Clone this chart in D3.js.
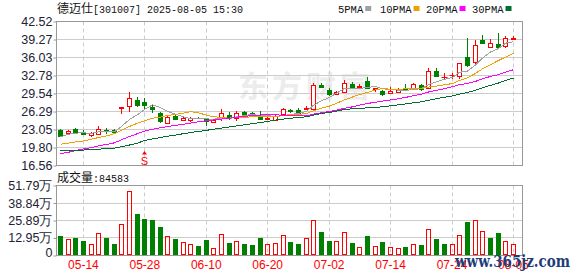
<!DOCTYPE html>
<html>
<head>
<meta charset="utf-8">
<script src="https://cdn.jsdelivr.net/npm/d3@7/dist/d3.min.js"></script>
<style>
  body { margin: 0; background: #fff; }
  svg { display: block; }
</style>
</head>
<body>
<svg id="chart" width="578" height="276"></svg>
<script>
// Trading days shown on the chart
const dates = [
  "05-09","05-12","05-13","05-14","05-15","05-16","05-19","05-20","05-23","05-26",
  "05-27","05-28","05-29","05-30","06-03","06-04","06-05","06-06","06-09","06-10",
  "06-11","06-12","06-13","06-16","06-17","06-18","06-19","06-20","06-23","06-24",
  "06-25","06-26","06-27","06-30","07-01","07-02","07-03","07-04","07-07","07-08",
  "07-09","07-10","07-11","07-14","07-15","07-16","07-17","07-18","07-21","07-22",
  "07-23","07-24","07-25","07-28","07-29","07-30","07-31","08-01","08-04","08-05"
];

const open = [
  23.03,22.42,23.21,22.60,22.13,22.31,23.03,22.91,27.00,27.31,
  28.43,27.95,27.13,25.99,24.30,25.44,24.85,24.85,25.15,25.00,
  24.41,25.08,25.75,25.20,26.22,26.04,25.60,24.90,24.75,25.80,
  26.60,26.53,26.75,26.66,31.06,30.16,29.38,29.74,31.25,30.70,
  31.84,30.28,30.05,29.56,29.79,30.46,30.34,31.06,30.46,33.60,
  32.50,32.80,32.75,36.19,35.29,39.22,38.01,38.50,38.13,39.45
];
const high = [
  23.21,22.91,23.39,22.91,22.60,23.63,23.32,23.09,27.12,29.79,
  28.94,28.71,27.62,26.22,25.44,25.93,25.32,25.32,25.30,25.13,
  24.90,26.66,26.22,26.35,26.35,26.17,26.35,25.40,25.62,26.90,
  26.70,26.84,27.25,31.48,31.40,30.46,30.07,31.97,31.60,31.24,
  32.57,30.58,30.25,30.75,30.57,31.24,31.37,31.24,34.20,34.20,
  33.29,33.29,35.10,39.53,39.10,40.00,39.30,40.44,39.82,39.95
];
const low = [
  21.69,22.31,22.31,22.00,21.69,22.18,22.18,22.49,25.93,26.22,
  27.13,26.66,26.04,24.30,24.17,24.90,24.72,24.41,24.90,23.75,
  24.26,24.60,24.72,24.60,25.80,25.44,24.72,24.80,24.54,25.70,
  26.04,25.80,26.53,26.53,30.46,29.12,29.25,29.56,30.52,30.28,
  30.28,29.85,29.07,29.43,29.67,30.16,30.16,30.03,30.28,32.57,
  31.97,32.10,32.15,34.38,34.69,38.50,37.90,37.72,37.72,39.10
];
const close = [
  21.82,22.78,22.42,22.31,22.42,23.21,22.72,22.60,27.12,28.65,
  27.53,27.45,26.68,24.66,25.32,25.00,25.05,25.10,25.05,24.60,
  24.72,25.99,25.20,26.04,25.93,25.62,24.95,25.15,25.45,26.66,
  26.45,26.10,26.90,31.06,30.65,29.43,29.85,31.37,30.65,30.90,
  30.46,30.50,29.44,29.98,30.34,30.30,31.19,30.34,33.60,32.75,
  32.57,32.88,35.00,34.69,38.31,38.62,38.56,38.01,39.53,39.60
];
// volume, in 万 (10k) shares
const volume = [
  14.3,12.5,12.8,10.5,8.8,17.0,12.8,8.3,23.3,47.8,
  30.8,27.0,26.3,21.0,14.3,12.0,9.8,8.8,6.8,11.3,
  5.8,15.8,9.3,11.0,8.3,7.5,12.8,8.3,9.0,14.8,
  10.0,8.3,13.3,26.0,17.3,10.8,10.5,17.3,9.0,6.5,
  14.3,7.3,9.8,6.5,5.8,6.0,8.8,7.5,19.3,12.0,
  8.3,8.3,15.5,24.8,26.0,17.8,12.8,16.5,11.0,8.4583
];

// moving averages as drawn
const ma5 = [
  21.70,22.20,22.40,22.45,22.35,22.63,22.62,22.65,23.61,24.86,
  25.72,26.67,27.49,26.99,26.33,25.82,25.34,25.03,25.10,24.96,
  24.90,25.09,25.11,25.31,25.58,25.76,25.55,25.54,25.42,25.57,
  25.73,25.96,26.31,27.43,28.23,28.83,29.58,30.47,30.39,30.44,
  30.65,30.78,30.39,30.26,30.14,30.11,30.25,30.43,31.15,31.64,
  32.09,32.43,33.36,33.58,34.69,35.90,37.04,37.64,38.61,38.86
];
const ma10 = [
  20.40,20.60,20.80,21.00,21.30,21.60,21.90,22.30,22.90,23.61,
  24.18,24.64,25.07,25.30,25.59,25.77,26.01,26.26,26.05,25.64,
  25.36,25.22,25.07,25.21,25.27,25.33,25.32,25.33,25.37,25.57,
  25.74,25.76,25.93,26.43,26.90,27.28,27.77,28.39,28.91,29.34,
  29.74,30.18,30.43,30.32,30.29,30.38,30.51,30.41,30.71,30.89,
  31.10,31.34,31.90,32.37,33.16,33.99,34.73,35.50,36.09,36.78
];
const ma20 = [
  18.70,18.95,19.25,19.55,19.80,20.10,20.35,20.65,21.20,21.80,
  22.30,22.75,23.10,23.35,23.60,23.80,24.00,24.20,24.45,24.62,
  24.77,24.93,25.07,25.26,25.43,25.55,25.66,25.79,25.71,25.61,
  25.55,25.49,25.50,25.82,26.08,26.31,26.55,26.86,27.14,27.45,
  27.74,27.97,28.18,28.38,28.60,28.83,29.14,29.40,29.81,30.11,
  30.42,30.76,31.16,31.34,31.73,32.19,32.62,32.95,33.40,33.83
];
const ma30 = [
  19.20,19.25,19.30,19.35,19.40,19.50,19.60,19.70,19.95,20.25,
  20.60,21.05,21.35,21.60,21.85,22.05,22.30,22.50,22.70,22.90,
  23.10,23.30,23.50,23.70,23.90,24.10,24.30,24.50,24.75,24.94,
  25.09,25.21,25.35,25.65,25.92,26.13,26.37,26.66,26.78,26.85,
  26.95,27.05,27.14,27.32,27.49,27.66,27.87,28.04,28.33,28.60,
  28.86,29.09,29.42,29.71,30.12,30.55,31.01,31.43,31.90,32.33
];

const priceTicks = [16.56, 19.80, 23.05, 26.29, 29.54, 32.78, 36.03, 39.27, 42.52];
const volTicks = [0, 12.95, 25.89, 38.84, 51.79];
const tickDates = ["05-14", "05-28", "06-10", "06-20", "07-02", "07-14", "07-24", "08-05"];
const maNames = ["5PMA", "10PMA", "20PMA", "30PMA"];

const svg = d3.select("#chart");

const RED = "#ff0000";
const GREEN = "#008000";
const GRID = "#cccccc";
const FRAME = "#999999";
const LABEL = "#222233";
const maColors = ["#a0a0a0", "#f0a000", "#ff00ff", "#006e2e"];

// Panel geometry
const plotL = 56.5, plotR = 522.5;
const priceTop = 21.5, priceBottom = 165.5;
const volTop = 185.5, volBottom = 255.5;
const step = 7.68;

const x = d3.scaleBand()
  .domain(dates)
  .range([plotL, plotL + step * dates.length])
  .padding(0);
const cx = d => Math.floor(x(d) + x.bandwidth() / 2) + 0.5;

const y = d3.scaleLinear().domain([16.56, 42.52]).range([priceBottom, priceTop]);
const yv = d3.scaleLinear().domain([0, 51.79]).range([volBottom, volTop]);

const rows = dates.map((d, i) => ({
  d, o: open[i], h: high[i], l: low[i], c: close[i], v: volume[i],
  prev: i ? close[i - 1] : open[i]
}));

// Watermark behind the price panel
svg.append("text")
  .attr("x", 238).attr("y", 97)
  .attr("font-family", "Noto Sans CJK SC")
  .attr("font-size", 30).attr("font-weight", "bold")
  .attr("letter-spacing", 4)
  .attr("fill", "#ececec")
  .text("东方财富");

// Horizontal grid lines
svg.append("g").selectAll("line")
  .data(priceTicks.slice(1, -1))
  .join("line")
  .attr("x1", plotL).attr("x2", plotR)
  .attr("y1", t => Math.floor(y(t)) + 0.5).attr("y2", t => Math.floor(y(t)) + 0.5)
  .attr("stroke", GRID);
svg.append("g").selectAll("line")
  .data(volTicks.slice(1, -1))
  .join("line")
  .attr("x1", plotL).attr("x2", plotR)
  .attr("y1", t => Math.floor(yv(t)) + 0.5).attr("y2", t => Math.floor(yv(t)) + 0.5)
  .attr("stroke", GRID);

// Vertical dashed grid lines, both panels
[[priceTop, priceBottom], [volTop, volBottom]].forEach(([t, b]) => {
  svg.append("g").selectAll("line")
    .data(tickDates)
    .join("line")
    .attr("x1", cx).attr("x2", cx)
    .attr("y1", t).attr("y2", b)
    .attr("stroke", GRID)
    .attr("stroke-dasharray", "4,3");
});

// Frames
[[priceTop, priceBottom], [volTop, volBottom]].forEach(([t, b]) => {
  svg.append("rect")
    .attr("x", plotL).attr("y", t)
    .attr("width", plotR - plotL).attr("height", b - t)
    .attr("fill", "none").attr("stroke", FRAME);
});

// Left axes
function styleAxis(g) {
  g.select(".domain").remove();
  g.selectAll(".tick line").attr("stroke", FRAME);
  g.selectAll(".tick text")
    .attr("fill", LABEL)
    .attr("font-family", "Liberation Sans, Arial, sans-serif")
    .attr("font-size", 12.5);
}
svg.append("g")
  .attr("transform", `translate(${plotL},0)`)
  .call(d3.axisLeft(y).tickValues(priceTicks).tickFormat(d3.format(".2f")).tickSize(3).tickPadding(1))
  .call(styleAxis);
svg.append("g")
  .attr("transform", `translate(${plotL},0)`)
  .call(d3.axisLeft(yv).tickValues(volTicks)
    .tickFormat(d => d === 0 ? "0" : d.toFixed(2) + "万").tickSize(3).tickPadding(1))
  .call(styleAxis)
  .selectAll(".tick text")
  .attr("dy", d => d === 0 ? "0.05em" : "0.32em");

// Date axis
svg.append("g")
  .attr("transform", `translate(0,${volBottom})`)
  .call(d3.axisBottom(x).tickValues(tickDates).tickSize(0).tickPadding(5))
  .call(g => g.select(".domain").remove())
  .selectAll("text")
  .attr("fill", RED)
  .attr("font-family", "Liberation Sans, Arial, sans-serif")
  .attr("font-size", 12);

// Candles
const candleG = svg.append("g");
rows.forEach(r => {
  const up = r.c >= r.o;
  const col = up ? RED : GREEN;
  const xc = cx(r.d);
  const top = Math.round(y(Math.max(r.o, r.c)));
  const bot = Math.round(y(Math.min(r.o, r.c)));
  const hy = Math.round(y(r.h));
  const ly = Math.round(y(r.l));
  if (hy < top) {
    candleG.append("line").attr("x1", xc).attr("x2", xc)
      .attr("y1", hy).attr("y2", top).attr("stroke", col);
  }
  if (ly > bot) {
    candleG.append("line").attr("x1", xc).attr("x2", xc)
      .attr("y1", bot).attr("y2", ly).attr("stroke", col);
  }
  if (bot - top < 1) {
    candleG.append("line")
      .attr("x1", xc - 3).attr("x2", xc + 3)
      .attr("y1", top + 0.5).attr("y2", top + 0.5)
      .attr("stroke", col);
  } else if (up) {
    candleG.append("rect")
      .attr("x", xc - 2).attr("y", top + 0.5)
      .attr("width", 4).attr("height", bot - top)
      .attr("fill", "#fff").attr("stroke", RED);
  } else {
    candleG.append("rect")
      .attr("x", xc - 2.5).attr("y", top)
      .attr("width", 5).attr("height", bot - top + 1)
      .attr("fill", GREEN);
  }
});

// Moving average lines
const line = d3.line()
  .x((v, i) => cx(dates[i]))
  .y(v => y(v));
[ma5, ma10, ma20, ma30].forEach((series, k) => {
  svg.append("path")
    .datum(series)
    .attr("d", line)
    .attr("fill", "none")
    .attr("stroke", maColors[k])
    .attr("stroke-width", 1)
    .attr("shape-rendering", "crispEdges");
});

// Volume bars
const volG = svg.append("g");
rows.forEach(r => {
  const up = r.c >= r.prev;
  const xc = cx(r.d);
  const top = Math.round(yv(r.v));
  if (up) {
    volG.append("rect")
      .attr("x", xc - 2).attr("y", top + 0.5)
      .attr("width", 4).attr("height", 254 - top)
      .attr("fill", "none").attr("stroke", RED);
  } else {
    volG.append("rect")
      .attr("x", xc - 2.5).attr("y", top)
      .attr("width", 5).attr("height", 255 - top)
      .attr("fill", GREEN);
  }
});

// "S" marker under the 05-28 candle
const sx = cx("05-28");
svg.append("path")
  .attr("d", `M${sx - 2.5},154.5 L${sx + 2.5},154.5 L${sx},151 Z`)
  .attr("fill", RED);
svg.append("text")
  .attr("x", sx).attr("y", 164.5)
  .attr("text-anchor", "middle")
  .attr("font-family", "Liberation Sans, Arial, sans-serif")
  .attr("font-size", 11)
  .attr("fill", RED)
  .text("S");

// Title
const title = svg.append("text").attr("x", 57).attr("y", 13).attr("fill", "#111");
title.append("tspan")
  .attr("font-family", "Noto Sans CJK SC").attr("font-size", 12)
  .text("德迈仕");
title.append("tspan")
  .attr("font-family", "Liberation Mono, monospace").attr("font-size", 10)
  .text("[301007] 2025-08-05 15:30");

// Legend
const legendX = [338, 380, 426, 472];
const legend = svg.append("g");
maNames.forEach((name, k) => {
  const t = legend.append("text")
    .attr("x", legendX[k]).attr("y", 12.5)
    .attr("font-family", "Liberation Mono, monospace")
    .attr("font-size", 10.5)
    .attr("fill", "#111")
    .text(name);
  const w = t.node().getComputedTextLength();
  legend.append("rect")
    .attr("x", legendX[k] + w + 2).attr("y", 6)
    .attr("width", 6).attr("height", 5)
    .attr("fill", maColors[k]);
});

// Volume caption
const cap = svg.append("text").attr("x", 57).attr("y", 182).attr("fill", "#111");
cap.append("tspan")
  .attr("font-family", "Noto Sans CJK SC").attr("font-size", 12)
  .text("成交量");
cap.append("tspan")
  .attr("font-family", "Liberation Mono, monospace").attr("font-size", 10)
  .text(":84583");

// Site watermark over the bottom right corner
svg.append("text")
  .attr("x", 455).attr("y", 267)
  .attr("font-family", "DejaVu Serif, serif")
  .attr("font-weight", "bold")
  .attr("font-size", 17)
  .attr("textLength", 115)
  .attr("lengthAdjust", "spacingAndGlyphs")
  .attr("fill", "#1e3c78")
  .text("www.365jz.com");
</script>
</body>
</html>
